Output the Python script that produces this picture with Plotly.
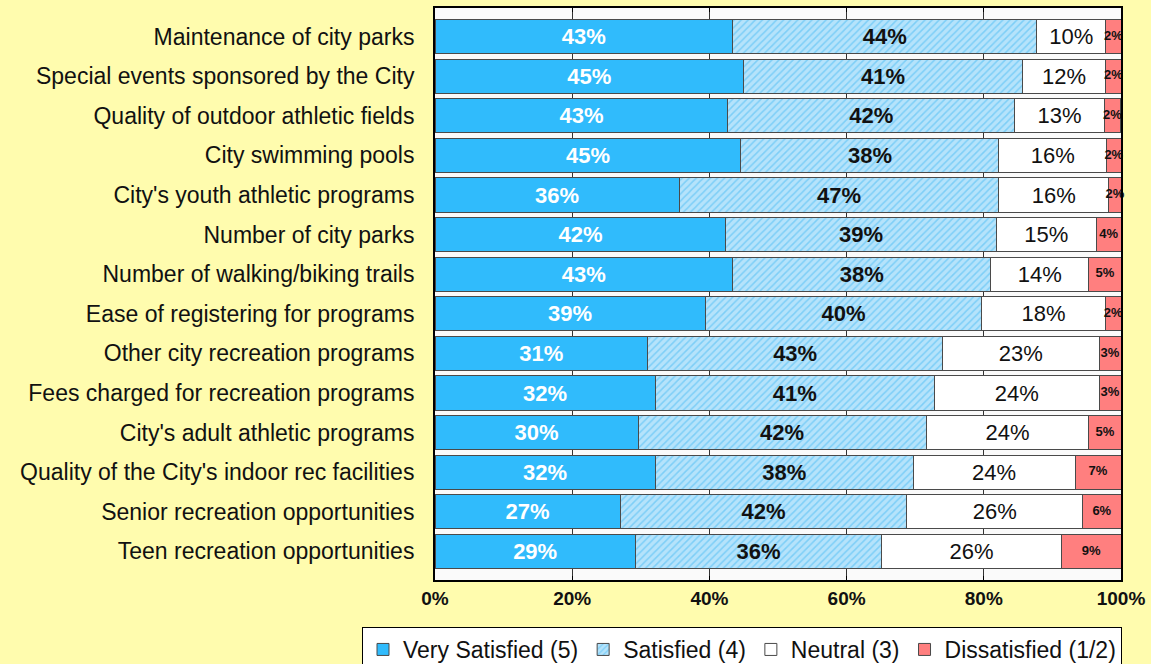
import plotly.graph_objects as go

categories = [
    "Maintenance of city parks",
    "Special events sponsored by the City",
    "Quality of outdoor athletic fields",
    "City swimming pools",
    "City's youth athletic programs",
    "Number of city parks",
    "Number of walking/biking trails",
    "Ease of registering for programs",
    "Other city recreation programs",
    "Fees charged for recreation programs",
    "City's adult athletic programs",
    "Quality of the City's indoor rec facilities",
    "Senior recreation opportunities",
    "Teen recreation opportunities",
]
very_satisfied = [43.4, 45.0, 42.7, 44.6, 35.6, 42.4, 43.4, 39.4, 31.0, 32.1, 29.6, 32.1, 27.0, 29.2]
satisfied =      [44.3, 40.6, 41.8, 37.6, 46.6, 39.4, 37.6, 40.3, 43.0, 40.7, 42.0, 37.6, 41.8, 35.9]
neutral =        [10.1, 12.2, 13.1, 15.7, 16.0, 14.6, 14.3, 18.0, 22.8, 24.0, 23.7, 23.6, 25.6, 26.2]
dissatisfied =   [2.2, 2.2, 2.3, 2.1, 1.8, 3.6, 4.7, 2.3, 3.2, 3.2, 4.7, 6.7, 5.6, 8.7]
tick_vals = [0, 20, 40, 60, 80, 100]
tick_text = ["0%", "20%", "40%", "60%", "80%", "100%"]

FONT = "Liberation Sans, Arial, sans-serif"
line = dict(color="#4a4a4a", width=1)

fig = go.Figure()
fig.add_trace(go.Bar(
    y=categories, x=very_satisfied, orientation="h", name="Very Satisfied (5)",
    marker=dict(color="#30BBFC", line=line),
    texttemplate="%{x:.0f}%", textposition="inside", insidetextanchor="middle", textangle=0,
    textfont=dict(color="white", size=22, family=FONT, weight="bold"),
))
fig.add_trace(go.Bar(
    y=categories, x=satisfied, orientation="h", name="Satisfied (4)",
    marker=dict(color="#A9DDFA", line=line,
                pattern=dict(shape="/", fgcolor="#45BAF4", bgcolor="#B5E3FB", size=5, solidity=0.3)),
    texttemplate="%{x:.0f}%", textposition="inside", insidetextanchor="middle", textangle=0,
    textfont=dict(color="#111111", size=22, family=FONT, weight="bold"),
))
fig.add_trace(go.Bar(
    y=categories, x=neutral, orientation="h", name="Neutral (3)",
    marker=dict(color="white", line=line),
    texttemplate="%{x:.0f}%", textposition="inside", insidetextanchor="middle", textangle=0,
    textfont=dict(color="#111111", size=22, family=FONT),
))
fig.add_trace(go.Bar(
    y=categories, x=dissatisfied, orientation="h", name="Dissatisfied (1/2)",
    marker=dict(color="#FF7F7F", line=line),
    textposition="none",
))
# labels for the thin "Dissatisfied" segments, centred on each segment
dis_centre = [v + s + n + d / 2 for v, s, n, d in zip(very_satisfied, satisfied, neutral, dissatisfied)]
fig.add_trace(go.Scatter(
    y=categories, x=dis_centre, mode="text", showlegend=False, hoverinfo="skip",
    text=[f"{d:.0f}%" for d in dissatisfied], cliponaxis=False,
    textfont=dict(color="#111111", size=13, family=FONT, weight="bold"),
))

fig.update_layout(
    barmode="stack",
    bargap=0.14,
    width=1151, height=664,
    paper_bgcolor="#FFFCAE",
    plot_bgcolor="#FAFAFA",
    margin=dict(l=435, r=30, t=8, b=84, autoexpand=False),
    font=dict(family=FONT, size=22, color="#111111"),
    showlegend=True,
    legend=dict(
        orientation="h", xref="paper", yref="paper",
        x=(362 - 435) / 686, xanchor="left", y=-(627 - 580) / 572, yanchor="top",
        bgcolor="white", bordercolor="black", borderwidth=1,
        font=dict(size=23, family=FONT, color="#111111"),
        traceorder="normal", itemwidth=30,
    ),
)
fig.update_xaxes(
    range=[0, 100], tickvals=tick_vals, ticktext=tick_text,
    tickfont=dict(size=19, family=FONT, weight="bold", color="#111111"),
    showgrid=True, gridcolor="#333333", gridwidth=1,
    zeroline=False, showline=True, linecolor="black", linewidth=2,
    mirror="allticks", ticks="inside", ticklen=4, tickcolor="black",
)
fig.update_yaxes(
    autorange="reversed", showgrid=False, showline=True, linecolor="black", linewidth=2,
    mirror=True, ticks="", ticklabelstandoff=14,
    tickfont=dict(size=23, family=FONT, color="#111111"),
)

fig.write_html(
    "out.html",
    config={"displayModeBar": False},
    post_script="document.body.style.margin='0';document.body.style.overflow='hidden';",
)
